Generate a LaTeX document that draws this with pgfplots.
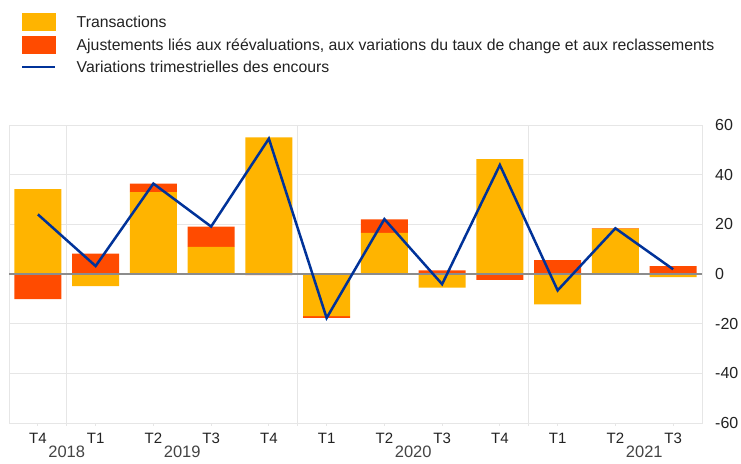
\documentclass[border=0pt]{standalone}
\usepackage{fontspec}
\setmainfont{Liberation Sans}
\usepackage{pgfplots}
\usepackage{pgfplotstable}
\pgfplotsset{compat=1.18}
\definecolor{ecbyellow}{RGB}{255,180,0}
\definecolor{ecbred}{RGB}{255,75,0}
\definecolor{ecbblue}{RGB}{0,50,153}
\definecolor{gridgray}{RGB}{230,230,230}
\definecolor{zerogray}{RGB}{140,140,140}
\definecolor{txt}{RGB}{34,34,34}
\definecolor{yeartxt}{RGB}{68,68,68}

% x: 0 = T4 2018 ... 11 = T3 2021
% tp/ap: positive parts of transactions / adjustments; tn/an: negative parts
\pgfplotstableread{
x  tp    ap    tn     an     tot
0  34.2  0     0      -10.1  24.0
1  0     8.2   -4.9   0      3.2
2  33.0  3.4   0      0      36.4
3  10.9  8.2   0      0      19.1
4  55.0  0     0      -0.5   54.5
5  0     0     -17.0  -0.7   -17.7
6  16.6  5.4   0      0      22.1
7  0     1.5   -5.5   0      -4.1
8  46.3  0     0      -2.4   43.9
9  0     5.6   -12.2  0      -6.6
10 18.3  0.2   0      0      18.4
11 0     3.2   -1.3   0      1.9
}\data

\pgfplotsset{
  base/.style={
    width=693bp, height=298bp, scale only axis,
    xmin=-0.5, xmax=11.5, ymin=-60, ymax=60,
    at={(0,0)}, anchor=south west,
  },
  hid/.style={base, hide axis},
}

\begin{document}
\begin{tikzpicture}[font=\fontsize{15bp}{18bp}\selectfont, text=txt]
\path[use as bounding box] (-9bp,-41bp) rectangle (732bp,423bp);

% Axis A: frame, grid, ticks, negative parts
\begin{axis}[base, ybar stacked, bar width=47bp,
  axis line style={draw=gridgray, line width=0.8bp},
  xtick={0,...,11},
  xticklabels={T4,T1,T2,T3,T4,T1,T2,T3,T4,T1,T2,T3},
  xtick pos=lower, tick align=outside,
  major tick length=3bp,
  x tick style={draw=gridgray, line width=0.8bp},
  xticklabel style={anchor=base, inner sep=0pt, yshift=-17.4bp, font=\fontsize{15bp}{18bp}\selectfont},
  extra x ticks={0.5,4.5,8.5},
  extra x tick labels={},
  extra x tick style={grid=major, tick style={draw=none}},
  ytick={-60,-40,...,60},
  ymajorgrids,
  grid style={draw=gridgray, line width=0.8bp},
  yticklabel pos=right,
  ytick pos=right,
  y tick style={draw=none},
  yticklabel style={anchor=west, inner sep=0pt, xshift=10bp, font=\fontsize{16bp}{18bp}\selectfont},
  /pgf/number format/assume math mode=true,
  clip=false,
]
\addplot[fill=ecbyellow, draw=none] table[x=x, y=tn] {\data};
\addplot[fill=ecbred, draw=none] table[x=x, y=an] {\data};
\node[anchor=base, text=yeartxt, font=\fontsize{16.5bp}{18bp}\selectfont] at (axis cs:0.5,-60) [yshift=-34.5bp] {2018};
\node[anchor=base, text=yeartxt, font=\fontsize{16.5bp}{18bp}\selectfont] at (axis cs:2.5,-60) [yshift=-34.5bp] {2019};
\node[anchor=base, text=yeartxt, font=\fontsize{16.5bp}{18bp}\selectfont] at (axis cs:6.5,-60) [yshift=-34.5bp] {2020};
\node[anchor=base, text=yeartxt, font=\fontsize{16.5bp}{18bp}\selectfont] at (axis cs:10.5,-60) [yshift=-34.5bp] {2021};
\end{axis}

% Axis B: positive parts
\begin{axis}[hid, ybar stacked, bar width=47bp]
\addplot[fill=ecbyellow, draw=none] table[x=x, y=tp] {\data};
\addplot[fill=ecbred, draw=none] table[x=x, y=ap] {\data};
\end{axis}

% Axis C: zero line, total line, legend
\begin{axis}[hid,
  legend cell align=left,
  legend style={at={(axis description cs:0,1)}, anchor=north west,
    xshift=12bp, yshift=112bp, draw=none, fill=none, inner sep=0pt,
    row sep=5.5bp,
    nodes={inner sep=0pt, text height=13.5bp, text depth=3bp, font=\fontsize{15.8bp}{18bp}\selectfont},
    /tikz/every odd column/.append style={column sep=20bp}},
]
\draw[zerogray, line width=1.2bp] (axis cs:-0.5,0) -- (axis cs:11.5,0);
\addlegendimage{legend image code/.code={\fill[ecbyellow] (0bp,-8.5bp) rectangle (33bp,8.5bp);}}
\addlegendentry{Transactions}
\addlegendimage{legend image code/.code={\fill[ecbred] (0bp,-8.5bp) rectangle (33bp,8.5bp);}}
\addlegendentry{Ajustements liés aux réévaluations, aux variations du taux de change et aux reclassements}
\addplot[ecbblue, line width=2.5bp, mark=none,
  legend image code/.code={\draw[ecbblue, line width=2.5bp] (0bp,0bp) -- (33bp,0bp);}]
  table[x=x, y=tot] {\data};
\addlegendentry{Variations trimestrielles des encours}
\end{axis}
\end{tikzpicture}
\end{document}
